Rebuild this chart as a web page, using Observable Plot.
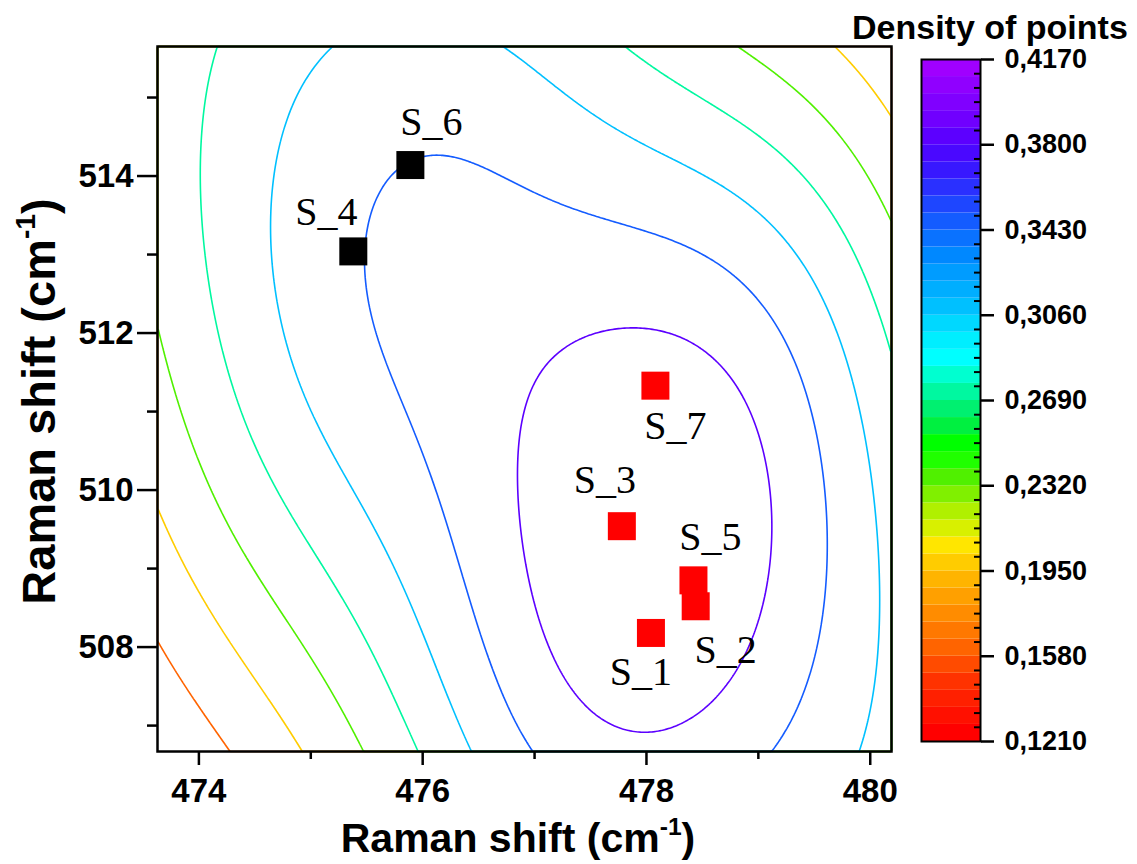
<!DOCTYPE html>
<html><head>
<meta charset="utf-8">
<script src="https://cdn.jsdelivr.net/npm/d3@7"></script>
<script src="https://cdn.jsdelivr.net/npm/@observablehq/plot@0.6"></script>
<style>
body{margin:0;background:#fff}
#wrap{position:relative;width:1137px;height:864px;background:#fff;font-family:'Liberation Sans',Arial,sans-serif;color:#000}
#main{position:absolute;left:0;top:0;width:900px}
#bar{position:absolute;left:880px;top:0;width:257px}
.ttl{position:absolute;font-weight:bold;white-space:nowrap;line-height:1}
sup{font-size:0.6em;vertical-align:0.7em;line-height:0}
</style>
</head><body>
<div id="wrap">
  <div id="main"></div>
  <div id="bar"></div>
  <div class="ttl" style="left:0;width:1036px;text-align:center;top:818px;font-size:41px">Raman shift (cm<sup>-1</sup>)</div>
  <div class="ttl" style="left:-192px;top:378px;width:460px;text-align:center;font-size:47px;transform:rotate(-90deg)">Raman shift (cm<sup>-1</sup>)</div>
  <div class="ttl" style="left:852px;top:10px;font-size:34px">Density of points</div>
</div>
<script>
// ---- data ----
const sampleNames = ["S_1", "S_2", "S_3", "S_4", "S_5", "S_6", "S_7"];
const ramanX = [478.04, 478.44, 477.78, 475.38, 478.42, 475.89, 478.08];
const ramanY = [508.18, 508.52, 509.54, 513.04, 508.85, 514.14, 511.33];
const sampleGroup = ["A", "A", "A", "B", "A", "B", "A"];
const xTicks = [474, 476, 478, 480];
const xMinorTicks = [475, 477, 479];
const yTicks = [508, 510, 512, 514];
const yMinorTicks = [507, 509, 511, 513, 515];
const densityTicks = [0.1210, 0.1580, 0.1950, 0.2320, 0.2690, 0.3060, 0.3430, 0.3800, 0.4170];
const contourLevels = [0.1580, 0.1950, 0.2320, 0.2690, 0.3060, 0.3430, 0.3800];
const xDomain = [473.63, 480.19];
const yDomain = [506.67, 515.65];

// ---- kernel density settings (bivariate Gaussian kernels, two bandwidths) ----
const kernelSettings = [
  {hx: 4.735, hy: 9.065, rho: -0.660, weight: 0.3402},
  {hx: 1.850, hy: 5.107, rho: 0.699, weight: 0.1432}
];

// ---- styles / layout ----
const palette = ["#FF0000","#FF1000","#FF2000","#FF3200","#FF4B00","#FF6400","#FF7800","#FF8C00","#FFA000","#FFB400","#FFCC00","#FFE600","#D8F000","#B0F000","#80F000","#50F000","#20FF00","#00FF00","#00F040","#00F070","#00F8A0","#00FFD0","#00FFFF","#00EEFF","#00D8FF","#00C0FF","#00AEFF","#009CFF","#0088FF","#0A72FF","#145CFF","#1E46FF","#2A30FF","#3818FF","#4A08FF","#5C00FF","#7000FF","#8000FF","#9000FF","#A000FF"];
const labelOffset = {S_1: [-10, 39], S_2: [30, 44], S_3: [-17, -46], S_4: [-27, -39], S_5: [17, -43], S_6: [21, -43], S_7: [20, 41]};

const samples = sampleNames.map((name, i) => ({name, x: ramanX[i], y: ramanY[i], group: sampleGroup[i]}));
const n = samples.length;

// density of the sample points at (x, y)
function density(x, y) {
  let total = 0;
  for (const {hx, hy, rho, weight} of kernelSettings) {
    const s = 1 / (1 - rho * rho);
    let t = 0;
    for (const d of samples) {
      const u = (x - d.x) / hx, w = (y - d.y) / hy;
      t += Math.exp(-0.5 * s * (u * u - 2 * rho * u * w + w * w));
    }
    total += weight * t / n;
  }
  return total;
}

// ---- scales ----
const lo = densityTicks[0], hi = densityTicks[densityTicks.length - 1];
const step = (hi - lo) / palette.length;
const edges = d3.range(1, palette.length).map(i => lo + i * step - 1e-9);
const colorOpts = {type: "threshold", domain: edges, range: palette};
const bands = palette.map((c, i) => ({lo: lo + i * step, hi: lo + (i + 1) * step, mid: lo + (i + 0.5) * step}));
const minorStep = (densityTicks[1] - densityTicks[0]) / 6;
const densityMinor = d3.range(1, 48).filter(k => k % 6 !== 0).map(k => lo + k * minorStep);

const tickFont = {fontSize: 33, fontWeight: "bold", fontFamily: "'Liberation Sans', Arial, sans-serif"};
const main = Plot.plot({
  width: 900, height: 864, marginLeft: 157, marginRight: 9, marginTop: 46, marginBottom: 113,
  x: {domain: xDomain}, y: {domain: yDomain},
  color: colorOpts,
  style: {background: "transparent", color: "black", overflow: "visible"},
  marks: [
    Plot.contour({x1: xDomain[0], x2: xDomain[1], y1: yDomain[0], y2: yDomain[1], value: density,
      thresholds: contourLevels, stroke: "value", fill: "none", strokeWidth: 1.6}),
    Plot.dot(samples, {filter: d => d.group === "A", x: "x", y: "y", symbol: "square", r: 15.8, fill: "#ff0000"}),
    Plot.dot(samples, {filter: d => d.group === "B", x: "x", y: "y", symbol: "square", r: 15.8, fill: "black"}),
    ...samples.map(d => Plot.text([d], {x: "x", y: "y", text: "name", dx: labelOffset[d.name][0], dy: labelOffset[d.name][1],
      fontSize: 40, fontFamily: "'Liberation Serif', 'Times New Roman', serif", fill: "black"})),
    Plot.axisX({ticks: xTicks, tickSize: 14, tickPadding: 13, strokeWidth: 2.5, tickFormat: d3.format("d"), label: null, ...tickFont}),
    Plot.axisX({ticks: xMinorTicks, tickSize: 8, strokeWidth: 2.5, tickFormat: () => "", label: null}),
    Plot.axisY({ticks: yTicks, tickSize: 20, tickPadding: 4, strokeWidth: 2.5, tickFormat: d3.format("d"), label: null, ...tickFont}),
    Plot.axisY({ticks: yMinorTicks, tickSize: 10, strokeWidth: 2.5, tickFormat: () => "", label: null}),
    Plot.frame({stroke: "black", strokeWidth: 2.5})
  ]
});
document.getElementById("main").append(main);

const bar = Plot.plot({
  width: 257, height: 864, marginLeft: 41, marginRight: 157, marginTop: 59, marginBottom: 123,
  x: {domain: [0, 1], axis: null},
  y: {domain: [lo, hi]},
  color: colorOpts,
  style: {background: "transparent", color: "black", overflow: "visible"},
  marks: [
    Plot.rect(bands, {x1: 0, x2: 1, y1: "lo", y2: "hi", fill: "mid"}),
    Plot.axisY({anchor: "right", ticks: densityMinor, tickSize: -7, strokeWidth: 2, tickFormat: () => "", label: null}),
    Plot.axisY({anchor: "right", ticks: densityTicks, tickSize: 13, tickPadding: 11, strokeWidth: 2.5, label: null,
      tickFormat: d => d.toFixed(4).replace(".", ","), fontSize: 27, fontWeight: "bold", fontFamily: "'Liberation Sans', Arial, sans-serif"}),
    Plot.frame({stroke: "black", strokeWidth: 2})
  ]
});
document.getElementById("bar").append(bar);
</script>
</body></html>
